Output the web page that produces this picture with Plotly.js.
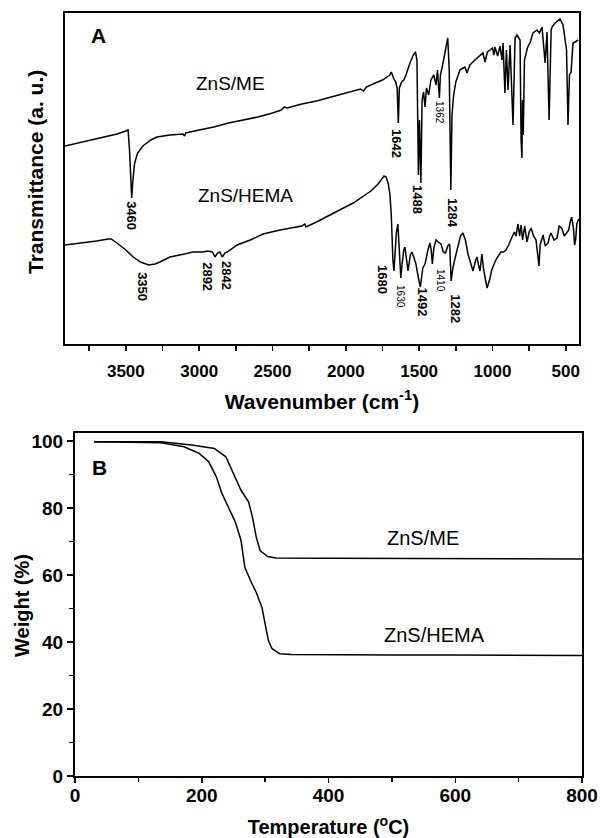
<!DOCTYPE html>
<html>
<head>
<meta charset="utf-8">
<script src="https://cdn.plot.ly/plotly-3.0.1.min.js"></script>
<style>html,body{margin:0;padding:0;background:#fff;}#chart{width:600px;height:838px;}</style>
</head>
<body>
<div id="chart"></div>
<script>
// ---- Panel A: FTIR (wavenumber, transmittance a.u.) ----
const meWavenumber = [3915,3711,3560,3500,3485,3475,3465,3460,3452,3440,3420,3384,3330,3288,3200,3110,3100,3092,3000,2900,2800,2700,2600,2500,2440,2420,2400,2300,2200,2100,2000,1900,1880,1860,1800,1750,1700,1690,1675,1660,1650,1642,1635,1620,1605,1590,1560,1540,1525,1515,1505,1498,1488,1480,1470,1460,1450,1435,1420,1400,1385,1375,1362,1355,1340,1320,1305,1295,1284,1276,1265,1250,1235,1222,1200,1188,1174,1154,1120,1090,1065,1051,1035,1017,1000,990,983,965,949,935,928,915,905,894,880,860,850,846,833,812,805,799,795,790,782,760,744,724,696,680,662,641,628,614,600,594,573,539,519,495,485,475,464,451,437,416];
const meTransmittance = [198,205,210,213,214,194,159,146,164,181,191,198,204,207,209,210,208,211,214,217,221,224,227,231,234,237,236,240,243,247,251,255,253,257,261,264,269,272,266,262,256,221,256,262,264,269,282,289,292,284,169,224,161,244,252,237,256,249,264,269,259,274,246,269,279,294,306,274,154,229,249,262,269,274,276,277,271,279,284,288,291,282,292,294,296,289,297,288,298,284,301,251,294,254,299,219,299,306,309,304,204,186,244,209,284,297,301,311,314,311,317,281,312,224,314,317,321,325,319,294,219,269,272,301,302,304];

const hemaWavenumber = [3915,3800,3700,3620,3600,3561,3500,3450,3400,3345,3300,3268,3200,3100,3043,2975,2940,2910,2892,2875,2860,2842,2825,2809,2741,2652,2564,2448,2300,2280,2272,2200,2061,1950,1829,1780,1750,1740,1725,1710,1699,1690,1679,1672,1665,1655,1645,1635,1625,1617,1605,1597,1585,1576,1560,1549,1535,1522,1505,1492,1475,1460,1440,1426,1418,1410,1400,1385,1370,1351,1335,1320,1305,1292,1282,1270,1250,1235,1218,1201,1185,1167,1150,1133,1118,1106,1095,1085,1072,1060,1045,1037,1020,1005,989,970,942,925,908,890,867,850,840,826,815,805,795,780,765,750,737,720,703,690,683,675,655,640,621,610,601,580,560,545,528,510,495,480,470,460,448,440,433,425,412];
const hemaTransmittance = [99,101,103,105,105,101,94,87,82,79,80,82,87,90,92,92,93,92,87,91,92,87,91,92,99,104,110,114,118,120,117,122,133,141,153,160,166,168,167,160,149,129,84,73,89,112,120,94,66,79,94,97,79,73,89,92,86,80,66,57,76,80,94,101,94,80,96,104,102,100,92,91,98,100,63,76,89,99,108,111,104,90,82,73,82,87,79,73,90,74,62,56,64,74,80,86,92,92,94,99,107,112,108,120,108,119,104,118,102,112,116,108,104,89,78,99,109,98,101,108,111,104,106,118,116,108,111,114,122,127,116,99,104,120,125];

// peak labels: text, position (wavenumber, a.u.), small flag
const meLabels   = ["3460","1642","1488","1362","1284"];
const meLabelX   = [3459,1651,1508,1358,1270];
const meLabelY   = [128,201,144,231,131];
const meSmall    = [false,false,false,true,false];
const hemaLabels = ["3350","2892","2842","1680","1630","1492","1410","1282"];
const hemaLabelX = [3384,2941,2811,1747,1624,1477,1351,1251];
const hemaLabelY = [57,67,68,64,47,42,64,35];
const hemaSmall  = [false,false,false,false,true,false,true,false];

// ---- Panel B: TGA ----
const meTemp   = [30,80,136,184,220,238,250,262,274,280,286,292,304,317,400,500,600,700,800];
const meWeight = [99.8,99.8,99.8,98.8,97.8,95.3,90.3,85.3,81.8,77.3,71.3,67.3,65.5,65.1,65.0,65.0,64.9,64.9,64.8];
const hemaTemp   = [30,80,136,172,196,211,223,232,244,253,262,268,277,286,295,301,305,311,323,341,400,500,600,700,800];
const hemaWeight = [99.8,99.7,99.5,98.3,96.3,93.8,89.3,84.3,79.3,75.8,70.3,62.3,58.3,54.8,50.3,44.3,40.5,38.0,36.5,36.3,36.2,36.1,36.1,36.0,36.0];

const W = 600, H = 838;
const px = v => v / W, py = v => 1 - v / H;
const FONT = "Liberation Sans, Arial, sans-serif";
const bold = (s) => ({family: FONT, size: s, color: "#000", weight: 700});
const reg = (s) => ({family: FONT, size: s, color: "#000"});

const lineStyle = {color: "#000", width: 1.5};
const traces = [
  {x: meWavenumber, y: meTransmittance, xaxis: "x", yaxis: "y", mode: "lines", line: lineStyle, name: "ZnS/ME", hoverinfo: "skip"},
  {x: hemaWavenumber, y: hemaTransmittance, xaxis: "x", yaxis: "y", mode: "lines", line: lineStyle, name: "ZnS/HEMA", hoverinfo: "skip"},
  {x: meTemp, y: meWeight, xaxis: "x2", yaxis: "y2", mode: "lines", line: lineStyle, name: "ZnS/ME", hoverinfo: "skip"},
  {x: hemaTemp, y: hemaWeight, xaxis: "x2", yaxis: "y2", mode: "lines", line: lineStyle, name: "ZnS/HEMA", hoverinfo: "skip"}
];

const annotations = [];
function addPeak(t, x, y, small) {
  annotations.push({xref: "x", yref: "y", x: x, y: y, text: t, showarrow: false, textangle: 90,
    font: small ? reg(10) : bold(13), xanchor: "center", yanchor: "middle"});
}
meLabels.forEach((t, i) => addPeak(t, meLabelX[i], meLabelY[i], meSmall[i]));
hemaLabels.forEach((t, i) => addPeak(t, hemaLabelX[i], hemaLabelY[i], hemaSmall[i]));

function note(x, y, text, font, angle) {
  annotations.push({xref: "paper", yref: "paper", x: px(x), y: py(y), text: text, showarrow: false,
    xanchor: "center", yanchor: "middle", textangle: angle || 0, font: font});
}
note(230, 83, "ZnS/ME", reg(19));
note(245, 195, "ZnS/HEMA", reg(19));
note(98, 35, "A", bold(21));
note(99, 467, "B", bold(21));
note(423, 538, "ZnS/ME", reg(20));
note(434, 635, "ZnS/HEMA", reg(20));
note(35, 172, "Transmittance (a. u.)", bold(21), -90);
note(22, 606, "Weight (%)", bold(20), -90);

const axisCommon = {showline: true, linecolor: "#000", linewidth: 2, mirror: true, showgrid: false, zeroline: false,
  ticks: "outside", tickcolor: "#000", tickwidth: 1.5};

const layout = {
  width: W, height: H,
  margin: {l: 0, r: 0, t: 0, b: 0},
  paper_bgcolor: "#fff", plot_bgcolor: "#fff",
  showlegend: false,
  xaxis: Object.assign({}, axisCommon, {
    domain: [px(65), px(579)], anchor: "y", range: [3915, 410],
    tickmode: "array", tickvals: [500,1000,1500,2000,2500,3000,3500], ticklen: 5,
    minor: {ticks: "outside", tickvals: [750,1250,1750,2250,2750,3250,3750], ticklen: 5, tickwidth: 1.5, tickcolor: "#000"},
    tickfont: bold(17), ticklabelstandoff: 6,
    title: {text: "Wavenumber (cm<sup>-1</sup>)", font: bold(21), standoff: 14}
  }),
  yaxis: Object.assign({}, axisCommon, {
    domain: [py(344), py(13)], anchor: "x", range: [0, 331],
    ticks: "", showticklabels: false
  }),
  xaxis2: Object.assign({}, axisCommon, {
    domain: [px(75), px(582)], anchor: "y2", range: [0, 800],
    tickmode: "linear", tick0: 0, dtick: 200, ticklen: 5,
    minor: {ticks: "outside", dtick: 100, ticklen: 4, tickwidth: 1.5, tickcolor: "#000"},
    tickfont: bold(19), ticklabelstandoff: -4,
    title: {text: "Temperature (<sup>o</sup>C)", font: bold(20), standoff: 18}
  }),
  yaxis2: Object.assign({}, axisCommon, {
    domain: [py(776), py(433)], anchor: "x2", range: [0, 102.4],
    tickmode: "linear", tick0: 0, dtick: 20, ticklen: 6,
    minor: {ticks: "outside", dtick: 10, ticklen: 4, tickwidth: 1.5, tickcolor: "#000"},
    tickfont: bold(19)
  }),
  annotations: annotations
};

Plotly.newPlot("chart", traces, layout, {staticPlot: true, displayModeBar: false});
</script>
</body>
</html>
